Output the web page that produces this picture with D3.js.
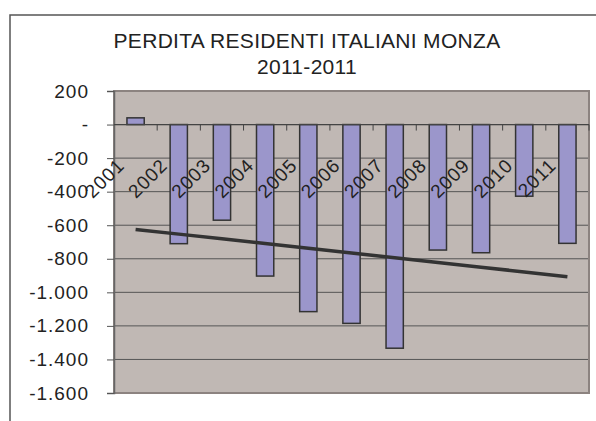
<!DOCTYPE html>
<html>
<head>
<meta charset="utf-8">
<script src="https://cdn.jsdelivr.net/npm/d3@7"></script>
<style>
  body { margin: 0; background: #fff; }
  svg { display: block; font-family: "Liberation Sans", Arial, sans-serif; }
</style>
</head>
<body>
<div id="chart"></div>
<script>
// Perdita residenti italiani Monza - bars + linear trend

const years  = ["2001","2002","2003","2004","2005","2006","2007","2008","2009","2010","2011"];
const values = [40, -710, -570, -903, -1115, -1185, -1333, -748, -764, -427, -708];
const yTicks = [200, 0, -200, -400, -600, -800, -1000, -1200, -1400, -1600];
const titleLines = ["PERDITA RESIDENTI ITALIANI MONZA", "2011-2011"];

const width = 596, height = 421;
const plot = { left: 114, right: 589, top: 91, bottom: 393 };

const svg = d3.select("#chart").append("svg")
  .attr("width", width)
  .attr("height", height);

// outer chart frame (clipped by the window on right/bottom)
svg.append("rect")
  .attr("x", 10).attr("y", 15)
  .attr("width", 620).attr("height", 440)
  .attr("fill", "none")
  .attr("stroke", "#555")
  .attr("stroke-width", 1.5);

// ── Title ───────────────────────────────────────────────────────────────
titleLines.forEach((t, i) => {
  svg.append("text")
    .attr("x", 307)
    .attr("y", 48 + i * 26)
    .attr("text-anchor", "middle")
    .style("font-size", "21px")
    .style("letter-spacing", "0.3px")
    .style("fill", "#222")
    .text(t);
});

// ── Scales ──────────────────────────────────────────────────────────────
const x = d3.scaleBand()
  .domain(years)
  .range([plot.left, plot.right])
  .paddingInner(0.6)
  .paddingOuter(0.3);

const y = d3.scaleLinear()
  .domain([-1600, 200])
  .range([plot.bottom, plot.top]);

// plot background
svg.append("rect")
  .attr("x", plot.left).attr("y", plot.top)
  .attr("width", plot.right - plot.left)
  .attr("height", plot.bottom - plot.top)
  .attr("fill", "#c0b8b4");

// gridlines
svg.append("g")
  .selectAll("line")
  .data(yTicks)
  .join("line")
  .attr("x1", plot.left).attr("x2", plot.right)
  .attr("y1", d => y(d)).attr("y2", d => y(d))
  .attr("stroke", "#555")
  .attr("stroke-width", 1);

// plot border
svg.append("rect")
  .attr("x", plot.left).attr("y", plot.top)
  .attr("width", plot.right - plot.left)
  .attr("height", plot.bottom - plot.top)
  .attr("fill", "none")
  .attr("stroke", "#8c8380")
  .attr("stroke-width", 2);

// y axis
const yAxis = svg.append("g")
  .attr("transform", `translate(${plot.left},0)`)
  .call(d3.axisLeft(y)
    .tickValues(yTicks)
    .tickSize(7)
    .tickPadding(18)
    .tickFormat(d => d === 0 ? "-" : d3.format(",")(d).replace(/,/g, ".").replace("−", "-")));

yAxis.select(".domain").attr("stroke", "#666").attr("stroke-width", 1.5);
yAxis.selectAll(".tick line").attr("stroke", "#555");
yAxis.selectAll(".tick text")
  .attr("x", -25)
  .style("font-size", "19px")
  .style("letter-spacing", "1px")
  .style("fill", "#222")
  .attr("font-family", null);

// ── Bars ────────────────────────────────────────────────────────────────
svg.append("g")
  .selectAll("rect")
  .data(years)
  .join("rect")
  .attr("x", d => x(d))
  .attr("width", x.bandwidth())
  .attr("y", (d, i) => Math.min(y(values[i]), y(0)))
  .attr("height", (d, i) => Math.abs(y(values[i]) - y(0)))
  .attr("fill", "#9b96cb")
  .attr("stroke", "#333")
  .attr("stroke-width", 1.5);

// zero axis with category tick marks
svg.append("line")
  .attr("x1", plot.left).attr("x2", plot.right)
  .attr("y1", y(0)).attr("y2", y(0))
  .attr("stroke", "#444")
  .attr("stroke-width", 1.2);

const step = x.step();
svg.append("g")
  .selectAll("line")
  .data(d3.range(1, years.length + 1))
  .join("line")
  .attr("x1", i => plot.left + i * step)
  .attr("x2", i => plot.left + i * step)
  .attr("y1", y(0)).attr("y2", y(0) + 6)
  .attr("stroke", "#444");

// x labels rotated
svg.append("g")
  .selectAll("text")
  .data(years)
  .join("text")
  .attr("transform", d => `translate(${x(d) + x.bandwidth() / 2 - 10},${y(0) + 42}) rotate(-45)`)
  .attr("text-anchor", "end")
  .style("font-size", "19px")
  .style("letter-spacing", "1px")
  .style("fill", "#222")
  .text(d => d);

// ── Linear trend line ───────────────────────────────────────────────────
const idx = values.map((v, i) => i + 1);
const mx = d3.mean(idx), my = d3.mean(values);
const slope = d3.sum(idx, (t, i) => (t - mx) * (values[i] - my)) / d3.sum(idx, t => (t - mx) ** 2);
const intercept = my - slope * mx;

svg.append("path")
  .datum(years)
  .attr("fill", "none")
  .attr("stroke", "#333")
  .attr("stroke-width", 3.5)
  .attr("d", d3.line()
    .x(d => x(d) + x.bandwidth() / 2)
    .y((d, i) => y(intercept + slope * (i + 1))));
</script>
</body>
</html>
